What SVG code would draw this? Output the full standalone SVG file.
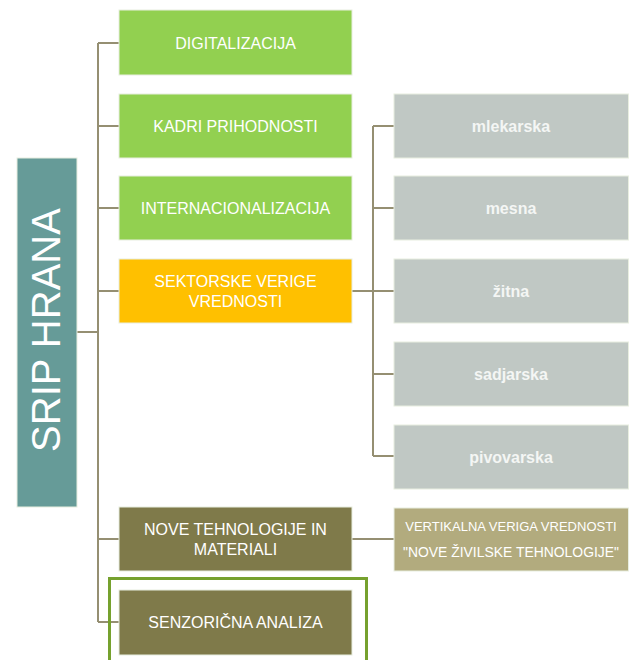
<svg xmlns="http://www.w3.org/2000/svg" width="629" height="660" viewBox="0 0 629 660">
<style>
.box{stroke:#e8eee0;stroke-width:1}
.g{fill:#92D050}
.o{fill:#FFC000}
.ol{fill:#7F7A4A}
.gr{fill:#C0C8C4}
.tan{fill:#B2AB7E}
.t{font-family:"Liberation Sans",Arial,sans-serif;font-size:16px;fill:#ffffff;text-anchor:middle}
.lc{font-weight:bold;fill:#f4f6f4}
.c{stroke:#958F72;stroke-width:2;fill:none}
</style>
<rect width="629" height="660" fill="#ffffff"/>
<g id="connectors">
<path class="c" d="M77 332H98M98 43V622M98 43H119M98 126H119M98 208H119M98 291H119M98 539H119M98 622H119"/>
<path class="c" d="M352 291H373M373 126V456M373 126H394M373 208H394M373 291H394M373 374H394M373 456H394"/>
<path class="c" d="M352 539H394"/>
</g>
<g id="root">
<rect x="17" y="158" width="60" height="349" fill="#669B98" class="box"/>
<text class="t" style="font-size:40px" transform="translate(60,330) rotate(-90)">SRIP HRANA</text>
</g>
<g id="n-digitalizacija">
<rect class="box g" x="119" y="10" width="233" height="65"/>
<text class="t" x="235.5" y="49">DIGITALIZACIJA</text>
</g>
<g id="n-kadri">
<rect class="box g" x="119" y="94" width="233" height="64"/>
<text class="t" x="235.5" y="132">KADRI PRIHODNOSTI</text>
</g>
<g id="n-internacionalizacija">
<rect class="box g" x="119" y="176" width="233" height="64"/>
<text class="t" x="235.5" y="214">INTERNACIONALIZACIJA</text>
</g>
<g id="n-sektorske">
<rect class="box o" x="119" y="259" width="233" height="64"/>
<text class="t" x="235.5" y="287">SEKTORSKE VERIGE</text>
<text class="t" x="235.5" y="307">VREDNOSTI</text>
</g>
<g id="n-nove">
<rect class="box ol" x="119" y="507" width="233" height="64"/>
<text class="t" x="235.5" y="535">NOVE TEHNOLOGIJE IN</text>
<text class="t" x="235.5" y="555">MATERIALI</text>
</g>
<g id="n-senzoricna">
<rect x="109.5" y="578.5" width="257" height="90" fill="none" stroke="#76A12E" stroke-width="3"/>
<rect class="box ol" x="119" y="590" width="233" height="65"/>
<text class="t" x="235.5" y="628">SENZORIČNA ANALIZA</text>
</g>
<g id="n-mlekarska">
<rect class="box gr" x="394" y="94" width="234.5" height="64"/>
<text class="t lc" x="511" y="132">mlekarska</text>
</g>
<g id="n-mesna">
<rect class="box gr" x="394" y="176" width="234.5" height="64"/>
<text class="t lc" x="511" y="214">mesna</text>
</g>
<g id="n-zitna">
<rect class="box gr" x="394" y="259" width="234.5" height="64"/>
<text class="t lc" x="511" y="297">žitna</text>
</g>
<g id="n-sadjarska">
<rect class="box gr" x="394" y="342" width="234.5" height="64"/>
<text class="t lc" x="511" y="380">sadjarska</text>
</g>
<g id="n-pivovarska">
<rect class="box gr" x="394" y="425" width="234.5" height="64"/>
<text class="t lc" x="511" y="463">pivovarska</text>
</g>
<g id="n-vertikalna">
<rect class="box tan" x="394" y="508" width="234.5" height="63"/>
<text class="t" style="font-size:13px" x="511" y="531">VERTIKALNA VERIGA VREDNOSTI</text>
<text class="t" style="font-size:14px" x="511" y="557" textLength="216" lengthAdjust="spacingAndGlyphs">"NOVE ŽIVILSKE TEHNOLOGIJE"</text>
</g>
</svg>
